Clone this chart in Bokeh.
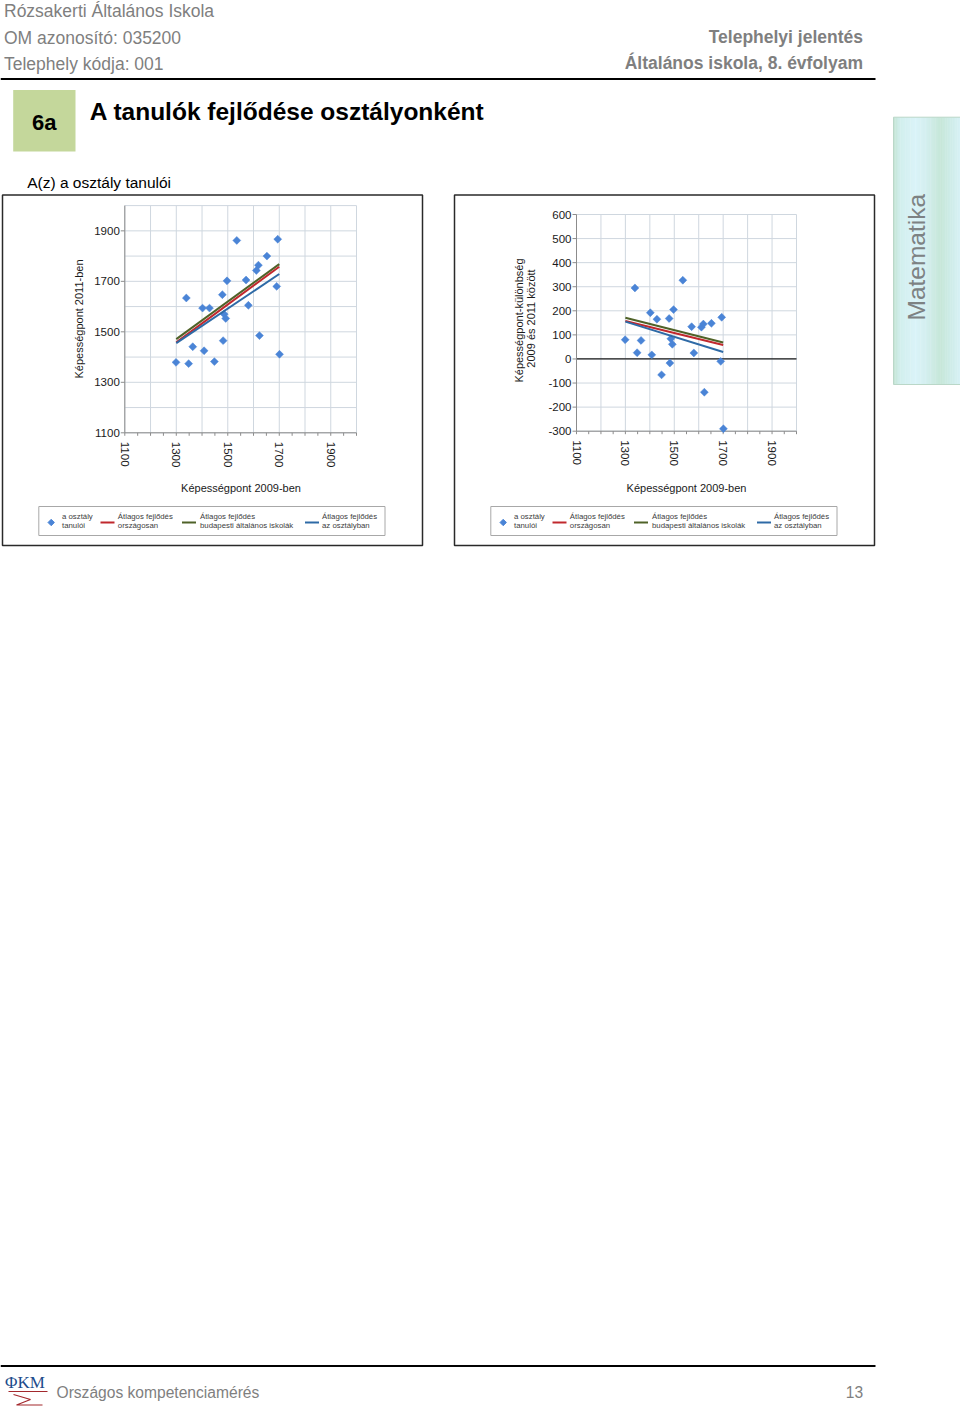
import math
from bokeh.plotting import figure
from bokeh.models import Range1d
from bokeh.core.properties import value
from bokeh.embed import file_html
from bokeh.resources import INLINE

# ---------------- data ----------------
score_2009 = [1299, 1339, 1348, 1364, 1402, 1408, 1429, 1448, 1479, 1482, 1486, 1492,
              1497, 1535, 1571, 1580, 1611, 1619, 1623, 1652, 1690, 1694, 1701]
score_2011 = [1379, 1634, 1374, 1441, 1594, 1425, 1594, 1382, 1647, 1465, 1570, 1553,
              1702, 1862, 1705, 1605, 1743, 1764, 1485, 1800, 1680, 1867, 1411]
score_diff = [80, 295, 26, 77, 192, 17, 165, -66, 168, -17, 84, 61,
              205, 327, 134, 25, 132, 145, -138, 148, -10, 173, -290]

trend_x = [1300, 1700]
trend_national = [1458, 1758]
trend_budapest = [1471, 1768]
trend_class = [1455, 1729]
trend_national_diff = [158, 58]
trend_budapest_diff = [171, 68]
trend_class_diff = [155, 29]

x_ticks = [1100, 1300, 1500, 1700, 1900]
x_grid = [1100, 1200, 1300, 1400, 1500, 1600, 1700, 1800, 1900, 2000]
x_minor = list(range(1100, 2001, 50))
y_ticks_left = [1100, 1300, 1500, 1700, 1900]
y_grid_left = [1100, 1200, 1300, 1400, 1500, 1600, 1700, 1800, 1900, 2000]
y_ticks_right = [-300, -200, -100, 0, 100, 200, 300, 400, 500, 600]
y_grid_right = [-300, -200, -100, 0, 100, 200, 300, 400, 500, 600]

legend_labels = [("a osztály", "tanulói"),
                 ("Átlagos fejlődés", "országosan"),
                 ("Átlagos fejlődés", "budapesti általános iskolák"),
                 ("Átlagos fejlődés", "az osztályban")]

# ---------------- styles ----------------
FONT = value("Liberation Sans")
GRAY = "#7f7f7f"
GRID = "#cfd7df"
AXIS = "#8c8c8c"
PT = "#4a84d6"
RED = "#c0282d"
GREEN = "#4f6228"
BLUE = "#2e6aa6"
TXT = "#1a1a1a"

p = figure(width=960, height=1409, x_range=Range1d(0, 960), y_range=Range1d(1409, 0),
           output_backend="svg", toolbar_location=None, min_border=0,
           x_axis_location=None, y_axis_location=None)
p.grid.visible = False
p.outline_line_color = None
p.background_fill_color = "white"
p.border_fill_color = "white"


def txt(x, y, s, size, color="black", bold=False, align="left", baseline="middle",
        angle=0.0, font=FONT):
    p.text(x=[x], y=[y], text=[s], text_font=font, text_font_size=f"{size}px",
           text_color=color, text_font_style="bold" if bold else "normal",
           text_align=align, text_baseline=baseline, angle=angle)


# ---------------- header ----------------
txt(3.5, 10.5, "Rózsakerti Általános Iskola", 17.5, GRAY)
txt(3.5, 37, "OM azonosító: 035200", 17.5, GRAY)
txt(3.5, 63, "Telephely kódja: 001", 17.5, GRAY)
txt(862.5, 36.6, "Telephelyi jelentés", 17.5, GRAY, bold=True, align="right")
txt(862.5, 62.6, "Általános iskola, 8. évfolyam", 17.5, GRAY, bold=True, align="right")
p.segment(x0=[0], y0=[78.5], x1=[875], y1=[78.5], line_color="black", line_width=2.2)

p.quad(left=[12.7], right=[75], top=[89.5], bottom=[151], fill_color="#c4d79b", line_color=None)
txt(43.8, 121.6, "6a", 22, "black", bold=True, align="center")
txt(89.3, 111, "A tanulók fejlődése osztályonként", 24.5, "black", bold=True)
txt(26.7, 182.3, "A(z) a osztály tanulói", 15.5, "black")

# ---------------- side tab (soft gradient) ----------------
key_pos = [893, 900, 915, 925, 940, 950, 960]
key_col = [(196, 228, 212), (210, 239, 238), (218, 243, 248), (212, 239, 240),
           (198, 231, 216), (206, 236, 232), (216, 242, 246)]
edges = [893 + i * 67 / 40 for i in range(41)]
cols = []
for i in range(40):
    xc = (edges[i] + edges[i + 1]) / 2
    for k in range(len(key_pos) - 1):
        if key_pos[k] <= xc <= key_pos[k + 1]:
            t = (xc - key_pos[k]) / (key_pos[k + 1] - key_pos[k])
            c = tuple(int(round(a + (b - a) * t)) for a, b in zip(key_col[k], key_col[k + 1]))
            cols.append("#%02x%02x%02x" % c)
            break
p.quad(left=edges[:-1], right=[e + 0.4 for e in edges[1:]], top=[116.7] * 40,
       bottom=[384] * 40, fill_color=cols, line_color=None)
p.quad(left=[893], right=[960], top=[116.7], bottom=[384], fill_color=None,
       line_color="#bad7c8", line_width=1)
txt(915.5, 256.7, "Matematika", 24.5, "#7d8283", align="center", angle=math.pi / 2)

# ---------------- chart boxes ----------------
for dx in (0, 452):
    p.quad(left=[2 + dx], right=[422 + dx], top=[194.5], bottom=[545], fill_color="white",
           line_color="#2a2a2a", line_width=1.5)


def draw_chart(sp, ys_lo, ys_hi, y_grid, y_ticks, ys, trends, zero_line):
    n = len(x_grid)
    sp.segment(x0=x_grid, y0=[ys_lo] * n, x1=x_grid, y1=[ys_hi] * n,
               line_color=GRID, line_width=1)
    m = len(y_grid)
    sp.segment(x0=[1100] * m, y0=y_grid, x1=[2000] * m, y1=y_grid,
               line_color=GRID, line_width=1)
    if zero_line:
        sp.segment(x0=[1100], y0=[0], x1=[2000], y1=[0], line_color="#1a1a1a", line_width=1.2)
    # axes lines
    sp.segment(x0=[1100], y0=[ys_lo], x1=[2000], y1=[ys_lo], line_color=AXIS, line_width=1)
    sp.segment(x0=[1100], y0=[ys_lo], x1=[1100], y1=[ys_hi], line_color=AXIS, line_width=1)
    # ticks
    sp.ray(x=x_minor, y=[ys_lo] * len(x_minor), length=3, length_units="screen",
           angle=-math.pi / 2, line_color=AXIS, line_width=1)
    sp.ray(x=[1100] * len(y_ticks), y=y_ticks, length=4, length_units="screen",
           angle=math.pi, line_color=AXIS, line_width=1)
    # tick labels
    sp.text(x=[1100] * len(y_ticks), y=y_ticks, text=[str(v) for v in y_ticks],
            x_offset=-5, text_align="right", text_baseline="middle",
            text_font=FONT, text_font_size="11.5px", text_color=TXT)
    sp.text(x=x_ticks, y=[ys_lo] * len(x_ticks), text=[str(v) for v in x_ticks],
            y_offset=9, angle=-math.pi / 2, text_align="left", text_baseline="middle",
            text_font=FONT, text_font_size="11.5px", text_color=TXT)
    # data
    sp.scatter(x=score_2009, y=ys, marker="square", angle=math.pi / 4, size=5.6,
               fill_color=PT, line_color=PT, line_width=0.5)
    for yv, col in trends:
        sp.line(x=trend_x, y=yv, line_color=col, line_width=2)


left = p.subplot(x_source=Range1d(1100, 2000), y_source=Range1d(1100, 2000),
                 x_target=Range1d(124.3, 356), y_target=Range1d(432.3, 205.1))
draw_chart(left, 1100, 2000, y_grid_left, y_ticks_left, score_2011,
           [(trend_budapest, GREEN), (trend_national, RED), (trend_class, BLUE)], False)

right = p.subplot(x_source=Range1d(1100, 2000), y_source=Range1d(-300, 600),
                  x_target=Range1d(576, 796), y_target=Range1d(430.7, 214))
draw_chart(right, -300, 600, y_grid_right, y_ticks_right, score_diff,
           [(trend_budapest_diff, GREEN), (trend_national_diff, RED), (trend_class_diff, BLUE)], True)

# axis titles
txt(78.3, 318.5, "Képességpont 2011-ben", 11, TXT, align="center", angle=math.pi / 2)
txt(518.5, 320, "Képességpont-különbség", 11, TXT, align="center", angle=math.pi / 2)
txt(530, 318, "2009 és 2011 között", 11, TXT, align="center", angle=math.pi / 2)
txt(240.5, 487.5, "Képességpont 2009-ben", 11, TXT, align="center")
txt(686, 487.5, "Képességpont 2009-ben", 11, TXT, align="center")

# legends
for dx in (0, 452):
    p.quad(left=[38.3 + dx], right=[384.5 + dx], top=[506], bottom=[535], fill_color="white",
           line_color="#a8a8a8", line_width=1)
    p.scatter(x=[50.7 + dx], y=[522], marker="square", angle=math.pi / 4, size=4.5,
              fill_color=PT, line_color=PT)
    for x0, col in ((100, RED), (181.5, GREEN), (304.5, BLUE)):
        p.segment(x0=[x0 + dx], y0=[522], x1=[x0 + 14 + dx], y1=[522], line_color=col,
                  line_width=2)
    for xt, (l1, l2) in zip((61.5, 117.3, 199.5, 321.5), legend_labels):
        txt(xt + dx, 516.3, l1, 7.8, "#404040")
        txt(xt + dx, 524.5, l2, 7.8, "#404040")

# ---------------- footer ----------------
p.segment(x0=[0], y0=[1365.5], x1=[875], y1=[1365.5], line_color="black", line_width=2.2)
txt(4.5, 1381.5, "ΦKM", 17, "#1d4c8c", font=value("Liberation Serif"))
p.line(x=[8, 47], y=[1391, 1391], line_color="#a3282d", line_width=1.2)
p.line(x=[13, 30, 16, 42], y=[1394, 1399, 1404.5, 1404.5], line_color="#a3282d", line_width=1.2)
txt(56, 1391.5, "Országos kompetenciamérés", 15.6, GRAY)
txt(862.7, 1391.8, "13", 15.6, GRAY, align="right")

with open("out.html", "w", encoding="utf-8") as f:
    f.write(file_html(p, INLINE, "Telephelyi jelentés"))
